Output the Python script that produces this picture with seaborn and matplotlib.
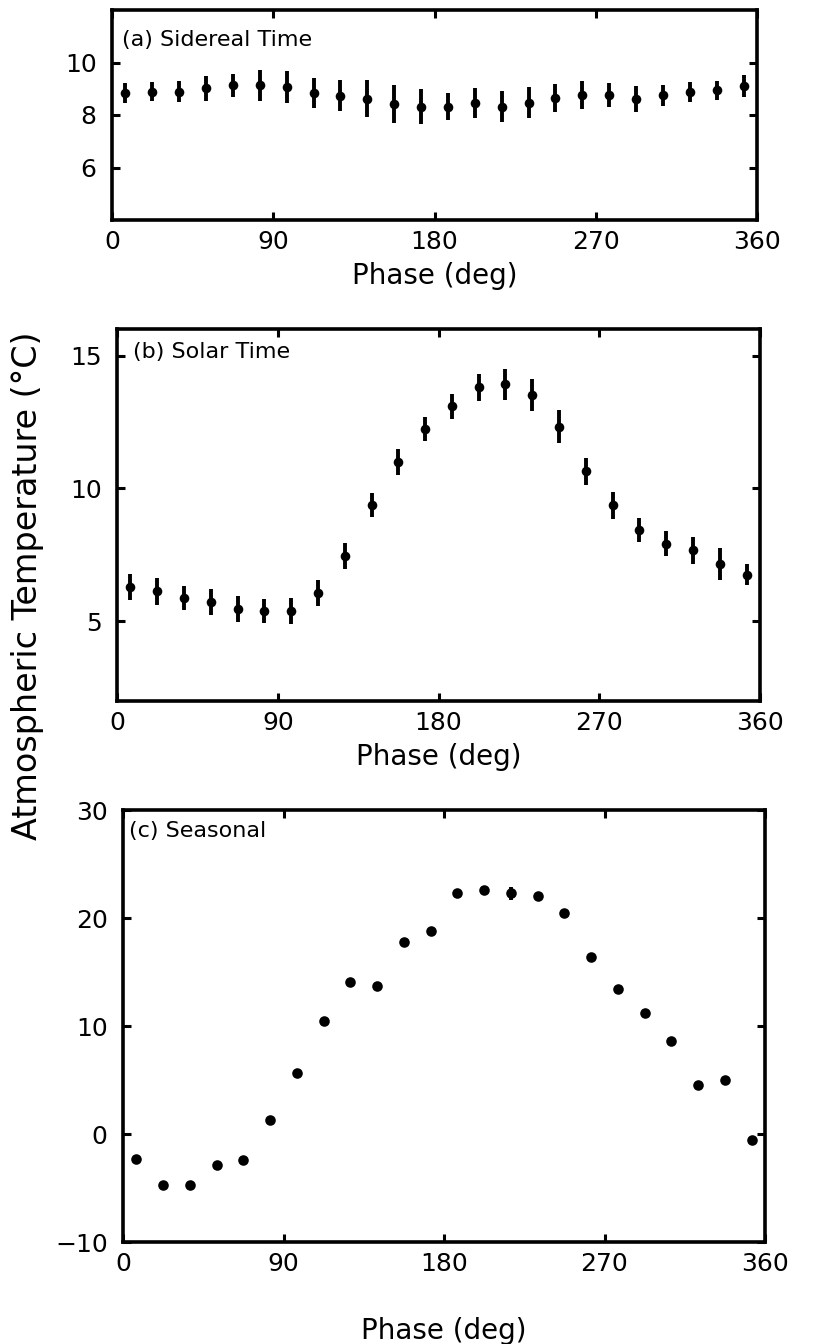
import numpy as np
import pandas as pd
import matplotlib
matplotlib.use("Agg")
import matplotlib.pyplot as plt
import seaborn as sns

# ---- data ----
phase = [7.5, 22.5, 37.5, 52.5, 67.5, 82.5, 97.5, 112.5, 127.5, 142.5, 157.5, 172.5,
         187.5, 202.5, 217.5, 232.5, 247.5, 262.5, 277.5, 292.5, 307.5, 322.5, 337.5, 352.5]

sidereal_temp = [8.85, 8.89, 8.89, 9.02, 9.13, 9.14, 9.07, 8.85, 8.73, 8.62, 8.43, 8.32,
                 8.32, 8.47, 8.32, 8.46, 8.66, 8.76, 8.76, 8.62, 8.76, 8.87, 8.94, 9.11]
sidereal_err = [0.38, 0.36, 0.41, 0.47, 0.44, 0.59, 0.60, 0.57, 0.59, 0.70, 0.73, 0.68,
                0.52, 0.57, 0.60, 0.59, 0.53, 0.55, 0.46, 0.50, 0.40, 0.38, 0.36, 0.42]

solar_temp = [6.29, 6.13, 5.88, 5.73, 5.46, 5.38, 5.38, 6.06, 7.46, 9.38, 10.99, 12.23,
              13.09, 13.80, 13.92, 13.53, 12.33, 10.64, 9.36, 8.45, 7.92, 7.67, 7.15, 6.76]
solar_err = [0.50, 0.50, 0.45, 0.48, 0.50, 0.45, 0.48, 0.48, 0.48, 0.46, 0.48, 0.46,
             0.46, 0.50, 0.58, 0.60, 0.63, 0.51, 0.51, 0.45, 0.48, 0.50, 0.59, 0.40]

seasonal_temp = [-2.3, -4.75, -4.75, -2.86, -2.4, 1.32, 5.64, 10.43, 14.04, 13.71, 17.82, 18.82,
                 22.36, 22.57, 22.29, 22.07, 20.46, 16.43, 13.43, 11.21, 8.6, 4.5, 5.04, -0.6]
seasonal_err = [0.2, 0.2, 0.2, 0.2, 0.2, 0.2, 0.2, 0.2, 0.2, 0.2, 0.2, 0.2,
                0.2, 0.2, 0.6, 0.2, 0.2, 0.2, 0.2, 0.2, 0.2, 0.2, 0.2, 0.2]

xticks = [0, 90, 180, 270, 360]
panel_titles = ["(a) Sidereal Time", "(b) Solar Time", "(c) Seasonal"]
xlabel = "Phase (deg)"
ylabel = "Atmospheric Temperature (\u00b0C)"

sns.set_style("ticks")
plt.rcParams["font.family"] = ["DejaVu Sans"]
plt.rcParams["text.color"] = "black"
plt.rcParams["axes.labelcolor"] = "black"

fig = plt.figure(figsize=(8.13, 13.44), dpi=100)

# axes rectangles in figure fractions
rects = [
    [112 / 813, 1 - 220 / 1344, 645 / 813, 210 / 1344],
    [117 / 813, 1 - 701 / 1344, 643 / 813, 372 / 1344],
    [123 / 813, 1 - 1242 / 1344, 642 / 813, 432 / 1344],
]
series = [
    (sidereal_temp, sidereal_err, (4, 12), [6, 8, 10], 0.857, 0.016),
    (solar_temp, solar_err, (2, 16), [5, 10, 15], 0.938, 0.025),
    (seasonal_temp, seasonal_err, (-10, 30), [-10, 0, 10, 20, 30], 0.952, 0.01),
]
xlabelpads = [6, 6, 30]

for i, (rect, (vals, errs, ylim, yticks, ty, tx)) in enumerate(zip(rects, series)):
    ax = fig.add_axes(rect)
    df = pd.DataFrame({"phase": phase, "temp": vals, "err": errs})
    ax.errorbar(df["phase"], df["temp"], yerr=df["err"], fmt="none",
                ecolor="black", elinewidth=2.8, capsize=0, zorder=2)
    sns.scatterplot(data=df, x="phase", y="temp", ax=ax, color="black",
                    s=58 if i == 2 else 48, edgecolor="black", linewidth=0, zorder=3,
                    legend=False)
    ax.set_xlim(0, 360)
    ax.set_ylim(*ylim)
    ax.set_xticks(xticks)
    ax.set_yticks(yticks)
    ax.tick_params(direction="in", length=6, width=2.2, top=True, right=True,
                   labelsize=18, pad=7, colors="black", labelcolor="black")
    ax.tick_params(axis="y", pad=11)
    for sp in ax.spines.values():
        sp.set_linewidth(2.6)
        sp.set_color("black")
    ax.set_xlabel(xlabel, fontsize=20, labelpad=xlabelpads[i], color="black")
    ax.set_ylabel("")
    ax.text(tx, ty, panel_titles[i], transform=ax.transAxes, fontsize=16,
            ha="left", va="center", color="black")

fig.text(0.034, 1 - 586 / 1344, ylabel, rotation=90, fontsize=24,
         ha="center", va="center", color="black")

fig.savefig("out.png", dpi=100, facecolor="white")
